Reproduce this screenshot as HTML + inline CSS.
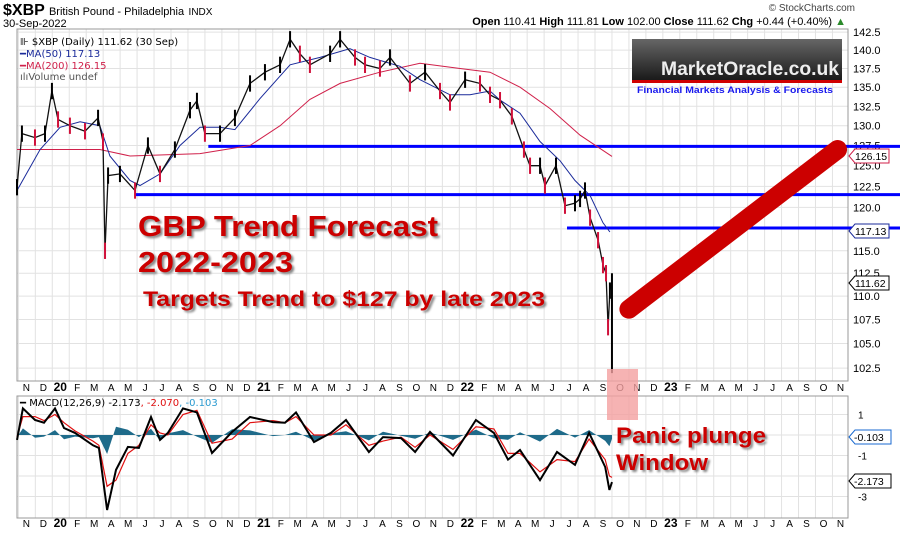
<!DOCTYPE html>
<html><head><meta charset="utf-8">
<style>
html,body{margin:0;padding:0;background:#fff;}
body{width:900px;height:534px;overflow:hidden;font-family:"Liberation Sans",sans-serif;}
svg{display:block}
</style></head>
<body>
<svg id="chart" width="900" height="534" viewBox="0 0 900 534" xmlns="http://www.w3.org/2000/svg" font-family="Liberation Sans, sans-serif">
<text x="3" y="15" font-size="16" font-weight="bold">$XBP <tspan font-size="11" font-weight="normal">British Pound - Philadelphia</tspan> <tspan font-size="10" font-weight="normal">INDX</tspan></text>
<text x="3" y="27" font-size="11">30-Sep-2022</text>
<text x="855" y="11" font-size="10" fill="#444" text-anchor="end">© StockCharts.com</text>
<text x="846" y="25" font-size="11" text-anchor="end"><tspan font-weight="bold">Open</tspan> 110.41 <tspan font-weight="bold">High</tspan> 111.81 <tspan font-weight="bold">Low</tspan> 102.00 <tspan font-weight="bold">Close</tspan> 111.62 <tspan font-weight="bold">Chg</tspan> +0.44 (+0.40%) <tspan fill="#2a8a2a">▲</tspan></text>
<g id="grid"></g>
<rect x="17" y="29" width="831" height="352" fill="none" stroke="#999"/>
<rect x="17" y="396" width="831" height="122" fill="none" stroke="#999"/>
<g id="marks"></g>
<g id="overlay"></g>
</svg>
<script>
// ---- data ----
const monthLabels=["N","D","20","F","M","A","M","J","J","A","S","O","N","D","21","F","M","A","M","J","J","A","S","O","N","D","22","F","M","A","M","J","J","A","S","O","N","D","23","F","M","A","M","J","J","A","S","O","N"];
const priceTicks=[142.5,140.0,137.5,135.0,132.5,130.0,127.5,125.0,122.5,120.0,117.5,115.0,112.5,110.0,107.5,105.0,102.5];
const macdTicks=[1,-1,-3];
const priceMonths=[0.92,1.21,1.98,2.57,2.98,3.34,4.04,4.93,5.70,5.99,6.11,6.29,6.99,7.88,8.64,9.35,10.23,11.12,11.53,12.0,12.89,13.77,14.66,15.54,16.43,17.02,17.6,18.19,19.38,19.97,20.85,21.44,22.32,22.91,24.09,24.98,25.86,26.45,27.34,28.22,28.81,29.4,30.1,30.81,31.17,31.76,32.05,32.7,33.23,33.82,34.12,34.41,34.71,35.18,35.47,35.65,35.77,35.88,36.0];
const closes=[122.4,129,128.5,129,134.5,130.8,130,129.3,131,128,115,123.8,124,122,127.5,124,127,132,133.2,129,129,131,135.5,137,138,141.5,139.5,138,139.5,141.5,139,138,137.5,139,135.5,137,134.5,133,136,135.5,134,133.3,131.2,127,125,125,122.6,125,120.2,120.5,121,122,118.8,116.2,113.4,112.5,106.7,110.6,111.6];
const crashLow=102.0;
const ma50Months=[0.92,2.28,3.46,4.64,5.81,6.40,7.58,8.17,9.35,10.53,11.71,12.89,13.77,15.25,17.02,18.79,20.55,21.73,23.50,24.68,26.45,27.63,28.81,29.40,30.58,31.76,32.94,33.82,34.71,35.47,35.88];
const ma50=[122,127,129.8,130.5,130,126.2,123.2,122.6,124,127.5,129.8,129.8,129.5,133.5,138,139,140.2,139,137.8,136,134,134,134.5,133.3,131.6,128,125.6,123.2,121.4,118.2,117.13];
const ma200Months=[0.92,5.81,7.58,11.71,14.66,16.43,18.19,19.97,22.32,24.68,27.04,28.81,30.58,32.35,34.12,36.0];
const ma200=[127,127,126.2,126.5,127.5,130,133.4,135.5,137,138.2,137.5,137,135,132.2,128.8,126.15];
const supportLevels=[127.4,121.5,117.6];
const supportStartMonths=[12.2,7.9,33.35];
const forecastMonths=[37,49.3];
const forecastValues=[108.6,127];
const macdMonths=[0.92,1.27,1.98,2.51,3.16,3.69,4.34,5.40,5.75,6.23,6.76,7.46,8.11,8.82,9.35,9.82,10.71,11.53,12.42,13.60,14.66,16.01,16.72,17.37,18.43,19.43,20.32,21.67,22.50,23.56,24.39,25.27,26.63,27.98,29.04,29.87,30.58,31.76,32.76,33.82,34.65,35.6,35.85,36.0];
const macdVals=[-0.24,1.3,0.73,0.6,1.3,0.34,0.1,-0.5,-0.63,-3.66,-1.7,-0.58,-0.63,0.88,-0.24,0.1,1.3,1.1,-0.88,0.15,0.88,0.63,0.6,1.1,-0.34,0.1,0.73,-0.83,-0.1,-0.15,-0.83,0.15,-1.0,0.73,0.1,-1.2,-0.73,-2.2,-0.83,-1.46,0.1,-1.56,-2.68,-2.3];
const signalVals=[-0.1,0.9,0.9,0.7,1.0,0.6,0.2,-0.3,-0.5,-2.5,-2.2,-0.9,-0.5,0.5,0.1,0.0,1.0,1.2,-0.4,-0.2,0.6,0.7,0.6,0.9,0.0,0.0,0.5,-0.5,-0.3,-0.1,-0.6,0.0,-0.7,0.4,0.3,-0.9,-0.9,-1.8,-1.2,-1.3,-0.2,-1.2,-2.0,-2.07];

// ---- scales ----
const NS="http://www.w3.org/2000/svg";
const X=m=>1.4+m*16.96;
const Y=v=>5090.6-1020*Math.log(v);
const MY=v=>435-20.5*v;
function el(tag,attrs,parent,txt){const e=document.createElementNS(NS,tag);for(const k in attrs)e.setAttribute(k,attrs[k]);if(txt!==undefined)e.textContent=txt;parent.appendChild(e);return e;}
const grid=document.getElementById('grid'),marks=document.getElementById('marks'),ov=document.getElementById('overlay');

monthLabels.forEach((lab,i)=>{
  const bx=X(i+1);
  if(bx>17&&bx<848){el('line',{x1:bx,y1:29,x2:bx,y2:381,stroke:'#e2e2e2'},grid);el('line',{x1:bx,y1:396,x2:bx,y2:518,stroke:'#e2e2e2'},grid);}
  const bold=/\d/.test(lab);
  [391,527].forEach(yy=>{
    const t=el('text',{x:bx+8,y:yy,'font-size':bold?12:10,'font-weight':bold?'bold':'normal','text-anchor':'middle'},grid,lab);
    
    
  });
});
priceTicks.forEach(v=>{
  const y=Y(v);
  el('line',{x1:17,y1:y,x2:848,y2:y,stroke:'#e2e2e2'},grid);
  const t=el('text',{x:853,y:y+4,'font-size':11},grid,v.toFixed(1));
  
  
});
[1,0,-1,-2,-3].forEach(v=>el('line',{x1:17,y1:MY(v),x2:848,y2:MY(v),stroke:'#e2e2e2'},grid));
macdTicks.forEach(v=>{
  const t=el('text',{x:858,y:MY(v)+4,'font-size':10},grid,String(v));
  
  
});

supportLevels.forEach((v,i)=>{
  const l=el('line',{x1:X(supportStartMonths[i]),y1:Y(v),x2:900,y2:Y(v),stroke:'#0000ff','stroke-width':3},marks);
  
  
});

function pl(ms,vs,f){return ms.map((m,i)=>X(m).toFixed(1)+','+f(vs[i]).toFixed(1)).join(' ');}
const m200=el('polyline',{points:pl(ma200Months,ma200,Y),fill:'none',stroke:'#d0204a','stroke-width':1},marks);


const m50=el('polyline',{points:pl(ma50Months,ma50,Y),fill:'none',stroke:'#1a2a9a','stroke-width':1},marks);



const pline=el('polyline',{points:pl(priceMonths,closes,Y),fill:'none',stroke:'#111','stroke-width':1.3},marks);


closes.forEach((c,i)=>{
  const x=X(priceMonths[i]);
  const up=i===0||c>=closes[i-1];
  const low=i===closes.length-1?crashLow:c*0.992;
  const b=el('line',{x1:x,y1:Y(c*1.008),x2:x,y2:Y(low),stroke:up?'#000':'#d0103a','stroke-width':2},marks);
  
  
});

const zeroY=MY(0);
let hp='M'+X(macdMonths[0])+','+zeroY;
macdMonths.forEach((m,i)=>{hp+=' L'+X(m).toFixed(1)+','+(zeroY-20.5*0.8*(macdVals[i]-signalVals[i])).toFixed(1);});
hp+=' L'+X(macdMonths[macdMonths.length-1])+','+zeroY+' Z';
const hist=el('path',{d:hp,fill:'#1f6b8a',stroke:'none'},marks);


const sig=el('polyline',{points:pl(macdMonths,signalVals,MY),fill:'none',stroke:'#e01010','stroke-width':1.2},marks);


const mac=el('polyline',{points:pl(macdMonths,macdVals,MY),fill:'none',stroke:'#000','stroke-width':2},marks);



const fc=el('line',{x1:X(forecastMonths[0]),y1:Y(forecastValues[0]),x2:X(forecastMonths[1]),y2:Y(forecastValues[1]),stroke:'#cc0000','stroke-width':19,'stroke-linecap':'round'},ov);


</script>
<svg style="position:absolute;left:0;top:0" width="900" height="534" xmlns="http://www.w3.org/2000/svg" font-family="Liberation Sans, sans-serif">
<defs><linearGradient id="lg" x1="0" y1="0" x2="0" y2="1"><stop offset="0" stop-color="#666"/><stop offset="1" stop-color="#1a1a1a"/></linearGradient></defs>
<rect x="607" y="369" width="31" height="51" fill="#f4a0a0" opacity="0.8"/>
<g font-family="DejaVu Sans, sans-serif" font-size="10">
<text x="20" y="45">⊪ $XBP (Daily) 111.62 (30 Sep)</text>
<text x="20" y="57" fill="#1a2a9a">━MA(50) 117.13</text>
<text x="20" y="69" fill="#d0204a">━MA(200) 126.15</text>
<text x="20" y="80" fill="#555">ılıVolume undef</text>
</g>
<text x="20" y="406" font-size="10" font-family="DejaVu Sans, sans-serif">━ MACD(12,26,9) -2.173<tspan fill="#e01010">, -2.070</tspan><tspan fill="#2a9ad0">, -0.103</tspan></text>
<g>
<rect x="632" y="39" width="210" height="41" fill="url(#lg)"/>
<rect x="632" y="80" width="210" height="3" fill="#d00000"/>
<text x="661" y="75" font-size="19" font-weight="bold" fill="#eee" textLength="178" lengthAdjust="spacingAndGlyphs">MarketOracle.co.uk</text>
<text x="637" y="93" font-size="9.5" font-weight="bold" fill="#1a1aee" textLength="196" lengthAdjust="spacingAndGlyphs">Financial Markets Analysis &amp; Forecasts</text>
</g>
<g fill="#cc0000" font-weight="bold" style="text-shadow:2px 2px 2px #888">
<text x="138" y="236" font-size="29" textLength="300" lengthAdjust="spacingAndGlyphs">GBP Trend Forecast</text>
<text x="138" y="272" font-size="29" textLength="155" lengthAdjust="spacingAndGlyphs">2022-2023</text>
<text x="143" y="306" font-size="21" textLength="402" lengthAdjust="spacingAndGlyphs">Targets Trend to $127 by late 2023</text>
<text x="616" y="443" font-size="22" textLength="150" lengthAdjust="spacingAndGlyphs">Panic plunge</text>
<text x="616" y="470" font-size="22" textLength="92" lengthAdjust="spacingAndGlyphs">Window</text>
</g>
<g font-size="10.5">
<path d="M849,156 l6,-7 h34 v14 h-34 z" fill="#fff" stroke="#d0204a"/><text x="855" y="160">126.15</text>
<path d="M849,231 l6,-7 h34 v14 h-34 z" fill="#fff" stroke="#1a2a9a"/><text x="855" y="235">117.13</text>
<path d="M849,283 l6,-7 h34 v14 h-34 z" fill="#fff" stroke="#000"/><text x="855" y="287">111.62</text>
<path d="M849,437 l6,-7 h36 v14 h-36 z" fill="#fff" stroke="#1a6ad0"/><text x="854" y="441">-0.103</text>
<path d="M849,481 l6,-7 h36 v14 h-36 z" fill="#fff" stroke="#000"/><text x="854" y="485">-2.173</text>
</g>
</svg>
</body></html>
